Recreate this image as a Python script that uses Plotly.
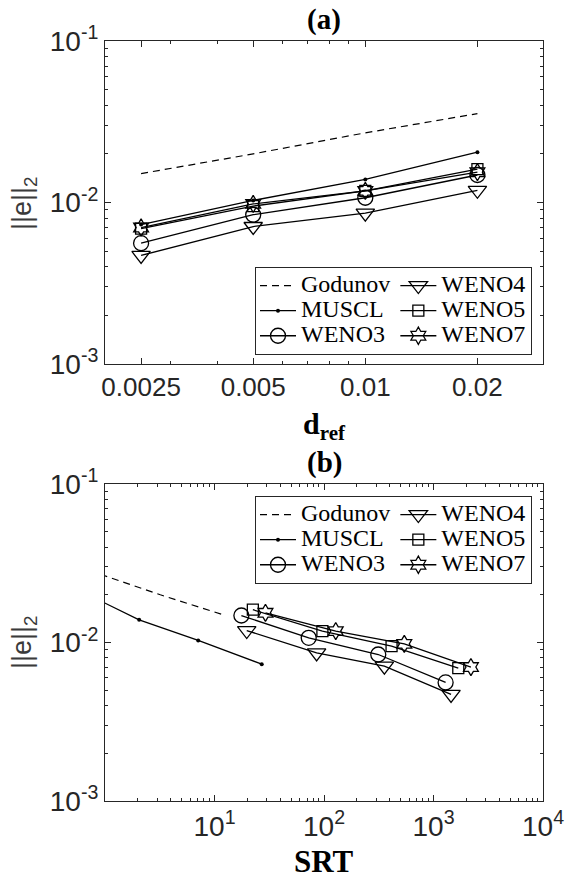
import numpy as np
import plotly.graph_objects as go

# ---------------- data ----------------
d_ref = [0.0025, 0.005, 0.01, 0.02]

err_godunov = [0.0151, 0.0200, 0.0270, 0.0355]
err_muscl = [0.0073, 0.0103, 0.0139, 0.0205]
err_weno3 = [0.0056, 0.0084, 0.0107, 0.0148]
err_weno4 = [0.0047, 0.0071, 0.0086, 0.0119]
err_weno5 = [0.0069, 0.0095, 0.0118, 0.0161]
err_weno7 = [0.0070, 0.0098, 0.0118, 0.0154]

srt_godunov = [11.5, 3.2, 0.9, 0.28]
srt_muscl = [27.0, 7.1, 2.05, 0.65]
srt_weno3 = [1290, 313, 72.5, 17.6]
srt_weno4 = [1446, 356, 85.6, 19.7]
srt_weno5 = [1684, 414, 96.7, 22.4]
srt_weno7 = [2196, 541, 128, 29.2]

names = ["Godunov", "MUSCL", "WENO3", "WENO4", "WENO5", "WENO7"]
errs = [err_godunov, err_muscl, err_weno3, err_weno4, err_weno5, err_weno7]
srts = [srt_godunov, srt_muscl, srt_weno3, srt_weno4, srt_weno5, srt_weno7]

xa_ticks = [0.0025, 0.005, 0.01, 0.02]
xa_ticktext = ["0.0025", "0.005", "0.01", "0.02"]
xb_ticks = [10, 100, 1000, 10000]
xb_ticktext = ["10<sup>1</sup>", "10<sup>2</sup>", "10<sup>3</sup>", "10<sup>4</sup>"]
y_ticks = [0.001, 0.01, 0.1]
y_ticktext = ["10<sup>-3</sup>", "10<sup>-2</sup>", "10<sup>-1</sup>"]

# ---------------- styles ----------------
K = "#262626"
styles = {
    "Godunov": dict(mode="lines", line=dict(color="black", width=1.2, dash="7px,5px")),
    "MUSCL": dict(mode="lines+markers", line=dict(color="black", width=1.3),
                  marker=dict(symbol="circle", size=4, color="black")),
    "WENO3": dict(mode="lines+markers", line=dict(color="black", width=1.3),
                  marker=dict(symbol="circle-open", size=15, color="black", line=dict(width=1.3))),
    "WENO4": dict(mode="lines+markers", line=dict(color="black", width=1.3),
                  marker=dict(symbol="triangle-down-open", size=16, color="black", line=dict(width=1.3))),
    "WENO5": dict(mode="lines+markers", line=dict(color="black", width=1.3),
                  marker=dict(symbol="square-open", size=11, color="black", line=dict(width=1.3))),
    "WENO7": dict(mode="lines+markers", line=dict(color="black", width=1.3),
                  marker=dict(symbol="hexagram-open", size=13, color="black", line=dict(width=1.3))),
}
group = {"Godunov": "1", "MUSCL": "1", "WENO3": "1", "WENO4": "2", "WENO5": "2", "WENO7": "2"}

def legname(n):
    return "<span style='font-size:24px'>" + n + "</span>"

fig = go.Figure()
for n, e in zip(names, errs):
    fig.add_trace(go.Scatter(x=d_ref, y=e, name=legname(n), xaxis="x", yaxis="y",
                             legend="legend", legendgroup="a" + group[n], **styles[n]))
for n, e, s in zip(names, errs, srts):
    fig.add_trace(go.Scatter(x=s, y=e, name=legname(n), xaxis="x2", yaxis="y2",
                             legend="legend2", legendgroup="b" + group[n], **styles[n]))

W, H = 566, 881
def px(x):
    return x / W
def py(y):
    return 1 - y / H

tickfont = dict(family="Liberation Sans", size=26, color=K)
bigtick = dict(family="Liberation Sans", size=28, color=K)
common = dict(type="log", showline=True, linecolor=K, linewidth=1, mirror="ticks",
              ticks="inside", ticklen=6, tickwidth=1, tickcolor=K, showgrid=False,
              zeroline=False, tickmode="array")

ymin_vals = [a * 10 ** k for k in (-3, -2) for a in range(2, 10)]
xa_minor = [0.002, 0.003, 0.004, 0.006, 0.007, 0.008, 0.009, 0.03]
xb_minor = [a * 10 ** k for k in range(0, 4) for a in range(2, 10)]

minor_y = dict(tickmode="array", tickvals=ymin_vals, ticks="inside", ticklen=3, tickcolor=K)
legfont = dict(family="Liberation Serif", size=17, color="black")

fig.update_layout(
    width=W, height=H, margin=dict(l=0, r=0, t=0, b=0, autoexpand=False),
    paper_bgcolor="white", plot_bgcolor="white", showlegend=True,
    xaxis=dict(common, domain=[px(105), px(543)], anchor="y",
               range=[np.log10(0.002), np.log10(0.03)], tickfont=tickfont,
               tickvals=xa_ticks, ticktext=xa_ticktext,
               minor=dict(tickmode="array", tickvals=xa_minor, ticks="inside", ticklen=3, tickcolor=K)),
    yaxis=dict(common, domain=[py(364), py(41)], anchor="x", range=[-3, -1],
               tickfont=bigtick, tickvals=y_ticks, ticktext=y_ticktext, minor=minor_y),
    xaxis2=dict(common, domain=[px(105), px(543)], anchor="y2", range=[0, 4],
                tickfont=bigtick, tickvals=xb_ticks, ticktext=xb_ticktext,
                minor=dict(tickmode="array", tickvals=xb_minor, ticks="inside", ticklen=3, tickcolor=K)),
    yaxis2=dict(common, domain=[py(801), py(484)], anchor="x2", range=[-3, -1],
                tickfont=bigtick, tickvals=y_ticks, ticktext=y_ticktext, minor=minor_y),
    legend=dict(x=px(532), xanchor="right", y=py(355), yanchor="bottom",
                orientation="h", traceorder="grouped", bgcolor="white",
                bordercolor=K, borderwidth=1, itemwidth=36, font=legfont),
    legend2=dict(x=px(532), xanchor="right", y=py(496), yanchor="top",
                 orientation="h", traceorder="grouped", bgcolor="white",
                 bordercolor=K, borderwidth=1, itemwidth=36, font=legfont),
)

serif_b = dict(family="Liberation Serif", size=29, color="black")
ann = [
    dict(text="<b>(a)</b>", x=px(324), y=py(38), yanchor="bottom", font=serif_b),
    dict(text="<b>(b)</b>", x=px(324), y=py(481), yanchor="bottom", font=serif_b),
    dict(text="<b>d<sub>ref</sub></b>", x=px(324), y=py(405), yanchor="top",
         font=dict(family="Liberation Serif", size=30, color="black")),
    dict(text="<b>SRT</b>", x=px(324), y=0, yanchor="bottom",
         font=dict(family="Liberation Serif", size=31, color="black")),
    dict(text="||e||<sub>2</sub>", x=px(24), y=py(203), textangle=-90,
         font=dict(family="Liberation Sans", size=27, color="#3a3a3a")),
    dict(text="||e||<sub>2</sub>", x=px(24), y=py(642), textangle=-90,
         font=dict(family="Liberation Sans", size=27, color="#3a3a3a")),
]
for a in ann:
    a.update(xref="paper", yref="paper", showarrow=False)
    a.setdefault("xanchor", "center")
    a.setdefault("yanchor", "middle")
fig.update_layout(annotations=ann)

fig.write_html("out.html", config={"displayModeBar": False},
               post_script="document.body.style.margin='0';document.body.style.overflow='hidden';")
